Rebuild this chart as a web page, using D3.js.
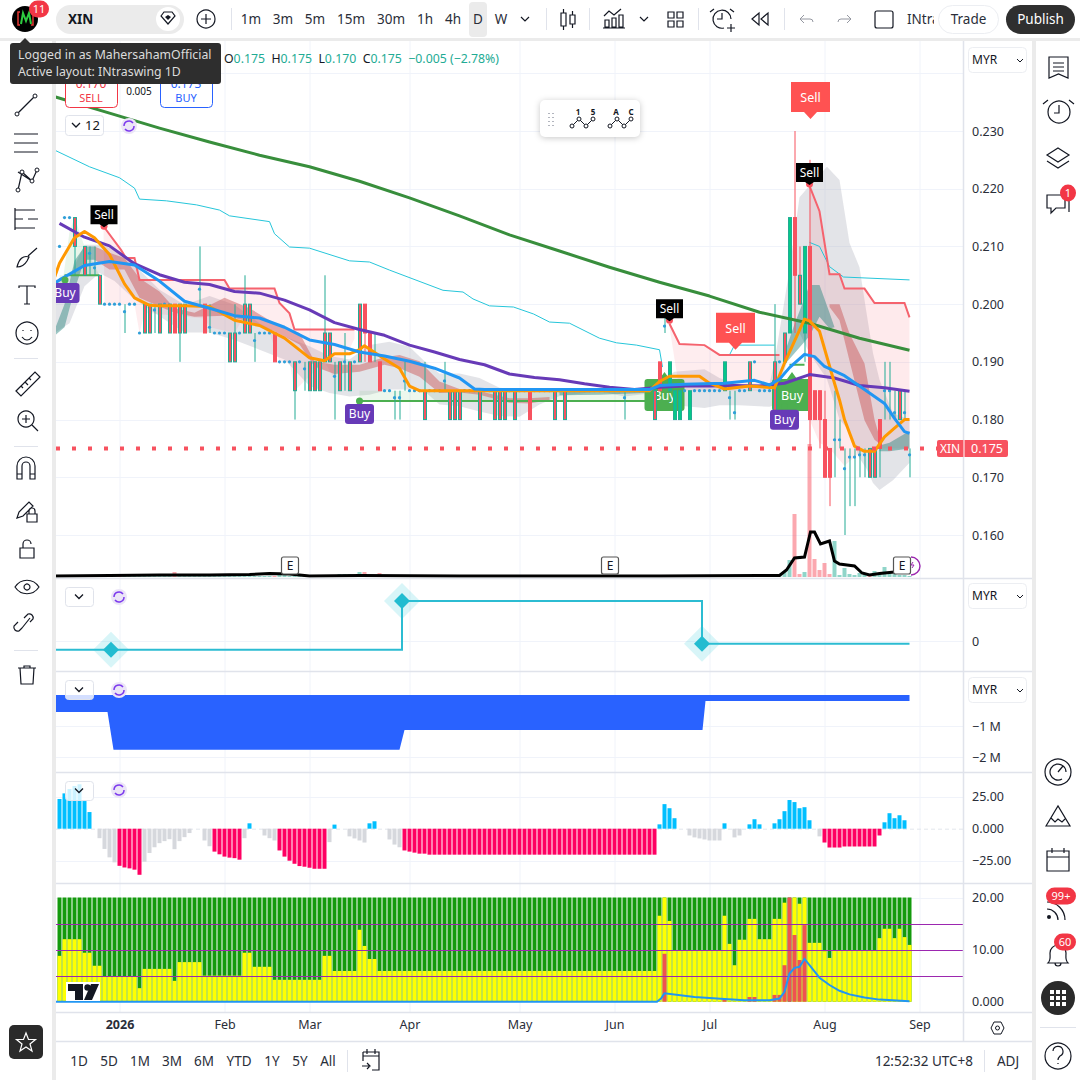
<!DOCTYPE html>
<html>
<head>
<meta charset="utf-8">
<title>XIN 1D</title>
<script src="https://cdn.jsdelivr.net/npm/d3@7"></script>
<style>
  html, body { margin: 0; padding: 0; background: #fff; }
  svg { display: block; }
  text { font-family: "Noto Sans", sans-serif; fill: #131722; }
</style>
</head>
<body>
<div id="chart"></div>
<script>
var bodyIdx = [3,5,8,17,18,20,22,23,24,25,29,34,35,37,38,43,47,50,51,52,53,54,56,58,60,61,62,64,73,78,79,80,84,87,88,89,91,94,99,101,119,120,122,123,124,126,133,138,143,145,146,147,148,149,150,151,152,153,154,162,163,164,168];
var bodyTop = [.215,.21,.205,.2,.2,.2,.2,.2,.2,.2,.2,.195,.195,.2,.2,.195,.19,.19,.19,.19,.195,.195,.19,.19,.2,.2,.195,.19,.185,.185,.185,.185,.185,.185,.185,.185,.185,.185,.185,.185,.185,.19,.19,.185,.185,.185,.19,.19,.19,.195,.215,.215,.205,.21,.21,.185,.185,.18,.175,.175,.175,.18,.185];
var bodyBot = [.21,.205,.2,.195,.195,.195,.195,.195,.195,.195,.195,.19,.19,.195,.195,.19,.185,.185,.185,.185,.19,.19,.185,.185,.19,.195,.19,.185,.18,.18,.18,.18,.18,.18,.18,.18,.18,.18,.18,.18,.18,.185,.185,.18,.18,.18,.185,.185,.18,.19,.195,.205,.2,.195,.18,.18,.18,.17,.17,.17,.17,.175,.18];
var redBodies = [23,29,43,61,62,64,94,120,147,150,151,152,153,154,164];
var greenBodies = [122,123,124,126,133,146,149];
var wickIdx = [3,6,7,13,19,24,28,30,35,37,39,47,49,53,55,57,61,63,67,68,69,73,77,113,121,134,135,143,147,148,149,150,152,153,154,155,156,157,158,159,160,161,164,165,166,167,169,170];
var wickHigh = [.215,.21,.21,.2,.2,.2,.21,.2,.2,.205,.195,.19,.19,.205,.19,.195,.2,.195,.185,.185,.19,.19,.19,.185,.2,.185,.185,.2,.23,.21,.21,.225,.185,.185,.175,.185,.18,.175,.175,.175,.175,.175,.18,.19,.19,.185,.185,.175];
var wickLow = [.205,.205,.205,.195,.195,.19,.2,.195,.19,.195,.19,.18,.185,.19,.18,.185,.19,.19,.18,.18,.185,.18,.185,.18,.195,.18,.18,.18,.195,.2,.19,.175,.175,.17,.165,.17,.175,.16,.165,.165,.17,.17,.17,.18,.18,.18,.18,.17];
var redWicks = [61,147,148,150,152,153,154];
var dotIdx = [0,1,2,6,7,9,10,11,12,13,14,15,16,19,21,28,30,31,32,33,36,39,40,41,42,44,45,46,48,49,55,57,59,65,66,67,68,69,70,71,72,74,75,76,77,81,82,83,85,86,90,92,93,95,96,97,98,100,102,103,104,105,106,107,108,109,110,111,112,113,114,115,116,117,118,121,125,127,128,129,130,131,132,134,135,136,137,139,140,141,142,144,155,156,157,158,159,160,161,165,166,167,169,170];
var dotVal = [.21,.215,.215,.2088,.2063,.2,.2,.2,.2,.1987,.2,.2,.195,.199,.2,.2026,.196,.195,.195,.195,.195,.1937,.195,.195,.195,.19,.19,.19,.19,.1888,.1875,.19,.19,.185,.185,.1838,.1838,.1867,.185,.185,.185,.185,.185,.185,.1867,.185,.185,.185,.185,.185,.185,.185,.185,.185,.185,.185,.185,.185,.185,.185,.185,.185,.185,.185,.185,.185,.185,.185,.185,.1838,.185,.185,.185,.185,.185,.1962,.185,.185,.185,.185,.185,.185,.185,.1838,.1812,.185,.185,.19,.185,.185,.185,.19,.1765,.1765,.1715,.1735,.1735,.1739,.1739,.185,.185,.1812,.1812,.1739];

// ---- moving averages
var gridIdx = [0,5,10,15,20,25,30,35,40,45,50,55,60,65,70,75,80,85,90,95,100,105,110,115,120,125,130,135,140,145,150,155,160,165,170];
var purpleMa = [.214,.2116,.2101,.207,.2051,.2038,.2034,.2022,.2019,.2007,.199,.1968,.1956,.1946,.1929,.1917,.1904,.1895,.1879,.1873,.1869,.1862,.1856,.1852,.1856,.1858,.1858,.1859,.1858,.1863,.1878,.1872,.1859,.1855,.1849];
var greenMaIdx = [-2,10,20,30,40,50,60,70,80,90,100,110,120,130,140,150,160,170];
var greenMa = [.2362,.2331,.2305,.2281,.2258,.2238,.2213,.2184,.2153,.212,.2092,.2064,.2038,.2014,.1986,.1967,.1941,.192];
var orangeIdx = [-1,0,3,5,7,10,13,15,18,20,25,30,35,40,45,50,53,55,58,60,61,65,68,70,72,118,120,122,128,130,133,138,143,145,147,149,150,152,155,156,157,159,161,163,165,167,169,170];
var orangeMa = [.2046,.2071,.2115,.2126,.2115,.2086,.2035,.2011,.1998,.1997,.1997,.1996,.1972,.1963,.1941,.1907,.1902,.1914,.1914,.1921,.1928,.1905,.1889,.1858,.185,.185,.1866,.1875,.1875,.1863,.1853,.1858,.1855,.1898,.1936,.1974,.1971,.1953,.1863,.1834,.18,.1754,.1745,.1745,.177,.1785,.18,.18];
var blueIdx = [-1,0,5,10,15,20,25,30,35,40,45,50,55,60,65,70,75,80,83,85,118,120,125,133,139,142,144,146,149,151,153,157,161,165,167,169,170];
var blueMa = [.2036,.2042,.2067,.2074,.2068,.204,.2005,.1993,.198,.1976,.196,.1938,.193,.1917,.191,.1901,.1889,.1872,.1853,.1852,.1852,.1859,.1861,.1863,.1868,.186,.187,.189,.1913,.1909,.1892,.1876,.1852,.1828,.1802,.1779,.1776];

// ---- trailing stop legs and the fill under them
var stop1Idx = [8.8,12.3,13.3,15,16,33,34,43,44,46,47,59];
var stop1 = [.2135,.2094,.208,.208,.2042,.2042,.2027,.2027,.2002,.1984,.1956,.1956];
var stop1LowIdx = [9,15,16,17,29,30,35,37,42,44,46,47,53,55,59];
var stop1Low = [.2,.2,.195,.1985,.1975,.196,.195,.198,.195,.19,.19,.185,.19,.187,.194];
var stop2Idx = [122,124,129,132,144];
var stop2 = [.1966,.1931,.1929,.1912,.1912];
var stop2Low = [.196,.185,.185,.185,.185];
var stop3Idx = [150,152,154,156,157,161,163,169,170];
var stop3 = [.2205,.2161,.2052,.2052,.2027,.2027,.2002,.2002,.1977];
var stop3Low = [.18,.176,.175,.173,.172,.175,.175,.175,.175];

// ---- thin cyan channel, three legs
var cyan1Idx = [-1,6,12,15,16,21.4,27.4,32,34,42,43,46,50,58,62,66,76.7,80.7,82.7,86,90.8,94.8,98,102,108,111.4,115.4,120,120.6];
var cyan1 = [.2267,.2238,.2219,.2201,.2182,.2179,.2172,.2163,.2153,.2143,.2122,.2099,.2097,.2075,.2073,.2059,.2024,.2021,.2009,.1997,.1995,.1983,.1969,.1967,.1941,.1933,.1929,.1921,.1891];
var cyan2Idx = [134,135,143];
var cyan2 = [.1912,.1929,.1929];
var cyan3Idx = [150,152,154,156.8,170];
var cyan3 = [.2107,.21,.2065,.2047,.2042];

// ---- grey band
var bandIdx = [-1,2,5,8,11,15,20,25,30,35,40,45,50,54,58,62,66,70,73,76,80,84,88,92,96,100,108,113,118,123,129,132,136,142,143,146,148,150,153.5,156,158,160,161.4,162.7,164,166.7,170];
var bandUp = [.2042,.2048,.2103,.2103,.2095,.2068,.2025,.1999,.2014,.1999,.1967,.1944,.1927,.191,.1904,.1929,.1935,.1926,.1901,.188,.188,.1872,.1855,.1852,.1852,.1852,.1853,.1853,.1855,.1883,.1887,.1872,.186,.1862,.19,.206,.2185,.2205,.2238,.2215,.2106,.2064,.1985,.1915,.1869,.1811,.18];
var bandLow = [.195,.1967,.2031,.2054,.204,.2008,.1979,.1951,.1951,.1938,.1921,.1904,.1858,.1846,.184,.1843,.1852,.1852,.1849,.1826,.1823,.1814,.1806,.1805,.1826,.1841,.1849,.184,.1845,.1825,.182,.1825,.1825,.1822,.1825,.1915,.195,.1915,.187,.18,.178,.1733,.1715,.169,.1678,.1695,.1725];

// ---- cloud, red and teal parts
var kumoRedIdx = [7,10,13,16,20,23,27,33,38,43,48,51,55,60,65,68,72,76,80,84,90,94,98];
var kumoRedTop = [.21,.2089,.208,.2045,.2022,.1993,.1985,.2011,.1993,.1967,.195,.1901,.1895,.1895,.1908,.1912,.1901,.1866,.1853,.1849,.1837,.1837,.1839];
var kumoRedBot = [.2077,.206,.206,.2011,.1996,.1985,.1978,.198,.197,.1953,.193,.1892,.1879,.1883,.1895,.1889,.1874,.1846,.1847,.1843,.1829,.1828,.1834];
var kumoRed2Idx = [154,156,158,161,163,164.5];
var kumoRed2Top = [.2,.2,.1949,.1897,.18,.1755];
var kumoRed2Bot = [.1995,.1972,.1902,.1799,.1765,.1755];
var kumoTeal1Idx = [-1,1,3,5,7];
var kumoTeal1Top = [.1955,.2,.2075,.21,.21];
var kumoTeal1Bot = [.1945,.196,.2025,.2077,.2077];
var kumoTeal2Idx = [100,108,117];
var kumoTeal2Top = [.1851,.1851,.1851];
var kumoTeal2Bot = [.1842,.1843,.1846];
var kumoTeal3Idx = [145,147,150,152,154,155];
var kumoTeal3Top = [.1915,.1965,.2033,.2033,.1985,.196];
var kumoTeal3Bot = [.1895,.1915,.1945,.1978,.1958,.196];
var kumoTeal4Idx = [164,166,170];
var kumoTeal4Top = [.1755,.176,.178];
var kumoTeal4Bot = [.1745,.1745,.175];

// ---- buy support legs
var buy1Idx = [1,8];
var buy1 = [.205,.205];
var buyFill1Idx = [0,2,3,4,5,8];
var buyFill1Top = [.2,.2125,.215,.2125,.21,.205];
var buyFill1Bot = [.205,.205,.205,.205,.205,.205];
var buy2Idx = [60,118];
var buy2 = [.1832,.1832];
var buy2Top = [.185,.185];
var buy3Idx = [146,149];
var buy3 = [.1895,.1895];

// ---- volume
var volumes = [2,2,1,1,1,1,2,1,1,1,2,1,1,1,1,1,2,1,2,3,3,1,2,5,2,3,1,1,1,1,2,1,1,1,1,1,2,2,1,1,1,1,1,1,2,2,1,1,1,1,2,2,1,1,2,2,3,3,3,2,5,5,2,2,4,2,1,1,1,1,1,2,1,1,1,1,1,1,1,1,1,1,1,1,1,1,1,1,1,1,1,1,1,1,1,1,1,1,1,1,1,1,1,1,1,1,1,1,1,1,1,1,1,1,1,1,1,1,1,1,2,1,1,1,1,1,1,1,1,1,1,1,1,1,1,1,1,1,1,1,1,1,1,3,2,6,17,63,3,5,133,18,7,14,3,36,2,9,3,2,4,3,3,6,4,10,3,3,2,2,1];
var volRed = [12,23,43,61,62,64,120,147,148,150,151,152,153,154,162];
var volLineIdx = [-2,10,20,30,38,42,46,50,60,80,100,120,140,144,145.4,147,149,150.2,151,152.2,154,155,156,157.5,159,160.5,162,164,167];
var volLine = [1,1.5,2,2,2.5,3.5,3,1,1.5,1,1,1,1.5,1.5,7,19,20,45,45,33,36,16,13,12,11,4,2,3.5,5];

// ---- pane 2 step
var stepIdx = [-2,68.5,128.5,170];
var stepVal = [-.22,1,-.07,-.07];
var diamondIdx = [10.3,68.5,128.5];
var diamondVal = [-.22,1,-.07];

// ---- pane 3 blue area
var flowIdx = [-2,9.6,10.8,68,69,128.6,129.2,170];
var flowVal = [-.55,-.55,-1.77,-1.77,-1.13,-1.13,-.19,-.19];

// ---- pane 4 histogram
var histVal = [23.2,27.6,31,33.4,34.7,21.6,13,0,-7.4,-15.8,-22.4,-26.3,-29,-30.3,-31,-32,-36,-25.8,-19,-14.5,-11.3,-9.7,-8.2,-16,-9.7,-6.6,-3.4,0,0,-9.2,-13.7,-17.9,-20,-21.8,-22.6,-23,-24.2,-7.4,4.2,0,0,-5.3,-7.4,-9.2,-17,-21.8,-25,-27.4,-29.2,-29.7,-30.5,-31.3,-31.3,-31.3,-10.5,3.2,0,0,-6,-7.6,-9.2,-10.8,4.2,5.8,0,0,-8.4,-12.4,-14.5,-17,-17.9,-18.7,-19.5,-19.5,-20.3,-20.3,-20.3,-20.3,-20.3,-20.3,-20.3,-20.3,-20.3,-20.3,-20.3,-20.3,-20.3,-20.3,-20.3,-20.3,-20.3,-20.3,-20.3,-20.3,-20.3,-20.3,-20.3,-20.3,-20.3,-20.3,-20.3,-20.3,-20.3,-20.3,-20.3,-20.3,-20.3,-20.3,-20.3,-20.3,-20.3,-20.3,-20.3,-20.3,-20.3,-20.3,-20.3,-20.3,-20.3,-20.3,3.4,19.2,16,8.2,0,0,-5.3,-6.8,-7.6,-8.4,-9.2,-9.2,-9.2,4.2,0,-6.8,-5.3,0,3.4,7.4,3.4,0,0,4.2,7.4,13.7,22.4,20.8,16,16.8,6.6,0,-6,-10.8,-14.7,-14.7,-14.7,-13.9,-13.9,-13.9,-13.9,-13.9,-13.9,-13.9,-5.3,5,12.1,8.2,10.5,6.6];
var histPinkFrom = [12,31,44,69,153];
var histPinkTo = [16,36,53,119,164];

// ---- pane 5 stacked bars
var yellowVal = [8.8,12,12,12,12,9.4,9.4,6.9,6.9,4.8,4.8,4.8,4.8,4.8,4.8,4.8,2.6,6.3,6.3,6.3,6.3,6.3,6.3,4,7.6,7.6,7.6,7.6,7.6,5,5,5,5,5,5,5,5,9.4,9.4,6.7,6.7,6.7,6.7,4.2,4.2,4.2,4.2,4.2,4.2,4.2,4.2,4.2,4.2,8.8,8.8,5.9,5.9,5.9,5.9,5.9,13.8,10.7,8.2,8.2,5.9,5.9,5.9,5.9,5.9,5.9,5.9,5.9,5.9,5.9,5.9,5.9,5.9,5.9,5.9,5.9,5.9,5.9,5.9,5.9,5.9,5.9,5.9,5.9,5.9,5.9,5.9,5.9,5.9,5.9,5.9,5.9,5.9,5.9,5.9,5.9,5.9,5.9,5.9,5.9,5.9,5.9,5.9,5.9,5.9,5.9,5.9,5.9,5.9,5.9,5.9,5.9,5.9,5.9,5.9,5.9,16.5,20,15.5,9.9,9.9,9.9,9.9,9.9,9.9,9.9,9.9,9.9,9.9,16.5,11.1,7,11.9,11.9,15.9,15.9,12,12,12,15.9,15.9,19,0,20,18.8,20,11.3,11.3,11.3,9.7,8.4,9.9,9.9,9.9,9.9,9.9,9.9,9.9,9.9,9.9,12.2,14,14,12.2,14,12.4,10.9];
var redIdx = [121,133,138,139,143,144,145,146,147,148,149];
var redVal = [9.2,.6,.9,.9,1.3,1.3,7,20,12.8,8,14.7];
var oscIdx = [-2,119.5,120.3,121,127,133,137,142,144,145,146,147,148,149,150,152,154,156,158,161,164,170];
var oscVal = [0,0,.6,1.6,.9,.5,.3,.3,.6,1.9,5.4,6.5,6.7,8.2,7,4.6,3.2,2.1,1.4,.8,.4,.1];
var osLevels = [5,10,15];

// ---- axis labels
var priceTicks = [.16,.17,.18,.19,.2,.21,.22,.23];
var monthIdx = [12,33,50,70,92,111,130,153,172];
var monthNames = ["2026","Feb","Mar","Apr","May","Jun","Jul","Aug","Sep"];
var rangeNames = ["1D","5D","1M","3M","6M","YTD","1Y","5Y","All"];
var intervalNames = ["1m","3m","5m","15m","30m","1h","4h","D","W"];

// ---- signal labels
var buyTagIdx = [1, 60, 145];
var buyTagVal = [.2042, .1832, .1822];
var sellTagIdx = [8.9, 122, 150];
var sellTagVal = [.2135, .1972, .2208];
var sellBigIdx = [135.2, 150.2];
var sellBigVal = [.1985, .2385];
var buyBigIdx = [121, 146.5];
var earningsIdx = [46, 110, 168.4];

var width = 1080, height = 1080;
var paneL = 56, paneR = 963;
var INK = "#131722", RED = "#f7525f", TEAL = "#22ab94", GRID = "#f0f3fa", LINE = "#e0e3eb";

var x = d3.scaleLinear().domain([0, 170]).range([59.5, 909.5]);
var yP = d3.scaleLinear().domain([.16, .23]).range([535, 131]);
var yVol = d3.scaleLinear().domain([0, 133]).range([577, 444]);
var yStep = d3.scaleLinear().domain([0, 1]).range([641, 601]);
var yFlow = d3.scaleLinear().domain([-2, 0]).range([757, 695]);
var yHist = d3.scaleLinear().domain([-25, 25]).range([860.7, 796.7]);
var yOsc = d3.scaleLinear().domain([0, 20]).range([1001.7, 897.5]);

var svg = d3.select("#chart").append("svg").attr("width", width).attr("height", height);
var defs = svg.append("defs");
[["main", 41, 537], ["p2", 579, 92], ["p3", 672, 100], ["p4", 773, 110], ["p5", 884, 128]].forEach(function(p) {
    defs.append("clipPath").attr("id", "clip-" + p[0]).append("rect")
        .attr("x", paneL).attr("y", p[1]).attr("width", paneR - paneL).attr("height", p[2]);
});

svg.append("rect").attr("width", width).attr("height", height).attr("fill", "#ebebeb");
svg.append("rect").attr("width", width).attr("height", 38).attr("fill", "#fff");
svg.append("rect").attr("x", 0).attr("y", 41).attr("width", 52).attr("height", 1039).attr("fill", "#fff");
svg.append("rect").attr("x", paneL).attr("y", 41).attr("width", 976).attr("height", 1039).attr("fill", "#fff");
svg.append("rect").attr("x", 1036).attr("y", 41).attr("width", 44).attr("height", 1039).attr("fill", "#fff");

// grid
var grid = svg.append("g");
grid.selectAll("line.v").data(monthIdx).enter().append("line")
    .attr("x1", function(d) { return x(d) + .5; }).attr("x2", function(d) { return x(d) + .5; })
    .attr("y1", 41).attr("y2", 1012).attr("stroke", GRID);
grid.selectAll("line.h").data(priceTicks.concat([.24])).enter().append("line")
    .attr("x1", paneL).attr("x2", paneR).attr("y1", function(d) { return Math.round(yP(d)) + .5; })
    .attr("y2", function(d) { return Math.round(yP(d)) + .5; }).attr("stroke", GRID);
[[yStep, [0]], [yFlow, [-1, -2]], [yHist, [25, -25]], [yOsc, [20]]].forEach(function(g) {
    g[1].forEach(function(v) {
        grid.append("line").attr("x1", paneL).attr("x2", paneR)
            .attr("y1", Math.round(g[0](v)) + .5).attr("y2", Math.round(g[0](v)) + .5).attr("stroke", GRID);
    });
});

function lineOf(xs, ys, scale) {
    var s = scale || yP;
    return d3.line().x(function(d) { return x(d); }).y(function(d, i) { return s(ys[i]); })(xs);
}
function areaOf(xs, top, bot, scale) {
    var s = scale || yP;
    return d3.area().x(function(d) { return x(d); })
        .y0(function(d, i) { return s(bot[i]); }).y1(function(d, i) { return s(top[i]); })(xs);
}
// polygon with different x samples along the top and bottom edge
function bandOf(xt, top, xb, bot) {
    var pts = xt.map(function(d, i) { return [x(d), yP(top[i])]; });
    xb.slice().reverse().forEach(function(d, i) { pts.push([x(d), yP(bot[bot.length - 1 - i])]); });
    return d3.line()(pts) + "Z";
}

var main = svg.append("g").attr("clip-path", "url(#clip-main)");

// volume at the back
main.selectAll("rect.vol").data(volumes).enter().append("rect")
    .attr("x", function(d, i) { return x(i) - 2; }).attr("width", 4)
    .attr("y", function(d) { return yVol(d); }).attr("height", function(d) { return yVol(0) - yVol(d); })
    .attr("fill", function(d, i) { return volRed.indexOf(i) >= 0 ? "rgba(247,82,95,.5)" : "rgba(34,171,148,.5)"; });

// bands
main.append("path").attr("d", areaOf(bandIdx, bandUp, bandLow)).attr("fill", "rgba(178,181,190,.36)");
main.append("path").attr("d", bandOf(stop1Idx, stop1, stop1LowIdx, stop1Low)).attr("fill", "rgba(247,82,95,.1)");
main.append("path").attr("d", areaOf(stop2Idx, stop2, stop2Low)).attr("fill", "rgba(247,82,95,.1)");
main.append("path").attr("d", areaOf(stop3Idx, stop3, stop3Low)).attr("fill", "rgba(247,82,95,.12)");
main.append("path").attr("d", areaOf(buyFill1Idx, buyFill1Top, buyFill1Bot)).attr("fill", "rgba(76,175,80,.12)");
main.append("path").attr("d", areaOf(buy2Idx, buy2Top, buy2)).attr("fill", "rgba(76,175,80,.1)");
[[kumoRedIdx, kumoRedTop, kumoRedBot, "rgba(200,80,80,.45)"],
 [kumoRed2Idx, kumoRed2Top, kumoRed2Bot, "rgba(200,80,80,.45)"],
 [kumoTeal1Idx, kumoTeal1Top, kumoTeal1Bot, "rgba(38,130,125,.45)"],
 [kumoTeal2Idx, kumoTeal2Top, kumoTeal2Bot, "rgba(38,130,125,.45)"],
 [kumoTeal3Idx, kumoTeal3Top, kumoTeal3Bot, "rgba(38,130,125,.45)"],
 [kumoTeal4Idx, kumoTeal4Top, kumoTeal4Bot, "rgba(38,130,125,.45)"]].forEach(function(k) {
    main.append("path").attr("d", areaOf(k[0], k[1], k[2])).attr("fill", k[3]);
});

// big green buy tags sit behind the candles
main.selectAll("g.buybig").data(buyBigIdx).enter().append("g").each(function(d) {
    var g = d3.select(this), cx = x(d);
    g.append("path").attr("d", "M" + (cx - 20) + ",382a3,3 0 0 1 3,-3h12l5,-7l5,7h12a3,3 0 0 1 3,3v26a3,3 0 0 1 -3,3h-34a3,3 0 0 1 -3,-3z").attr("fill", "#4caf50");
    g.append("text").attr("x", cx).attr("y", 400).attr("text-anchor", "middle").attr("font-size", 12.5).style("fill", "#fff").text("Buy");
});

// thin lines
[[cyan1Idx, cyan1], [cyan2Idx, cyan2], [cyan3Idx, cyan3]].forEach(function(c) {
    main.append("path").attr("d", lineOf(c[0], c[1])).attr("fill", "none").attr("stroke", "#26c6da").attr("stroke-width", 1);
});
[[buy1Idx, buy1], [buy2Idx, buy2], [buy3Idx, buy3]].forEach(function(c) {
    main.append("path").attr("d", lineOf(c[0], c[1])).attr("fill", "none").attr("stroke", "#4caf50").attr("stroke-width", 2);
});
[[stop1Idx, stop1], [stop2Idx, stop2], [stop3Idx, stop3]].forEach(function(c) {
    main.append("path").attr("d", lineOf(c[0], c[1])).attr("fill", "none").attr("stroke", "#f5636e").attr("stroke-width", 2);
});

// candles
main.selectAll("line.wick").data(wickIdx).enter().append("line")
    .attr("x1", function(d) { return x(d) + .5; }).attr("x2", function(d) { return x(d) + .5; })
    .attr("y1", function(d, i) { return yP(wickHigh[i]); }).attr("y2", function(d, i) { return yP(wickLow[i]); })
    .attr("stroke", function(d) { return redWicks.indexOf(d) >= 0 ? RED : TEAL; });
main.selectAll("rect.body").data(bodyIdx).enter().append("rect")
    .attr("x", function(d) { return x(d) - 1; }).attr("width", 3)
    .attr("y", function(d, i) { return yP(bodyTop[i]); })
    .attr("height", function(d, i) { return yP(bodyBot[i]) - yP(bodyTop[i]); })
    .attr("fill", function(d) { return greenBodies.indexOf(d) >= 0 ? "#05c987" : RED; })
    .attr("stroke", function(d) { return redBodies.indexOf(d) >= 0 ? RED : TEAL; });
main.selectAll("circle.dot").data(dotIdx).enter().append("circle")
    .attr("cx", function(d) { return x(d); }).attr("cy", function(d, i) { return yP(dotVal[i]); })
    .attr("r", 1.6).attr("fill", "#2f9fd8");

// moving averages
[[greenMaIdx, greenMa, "#388e3c"], [gridIdx, purpleMa, "#673ab7"], [orangeIdx, orangeMa, "#ff9800"], [blueIdx, blueMa, "#2196f3"]].forEach(function(m) {
    main.append("path").attr("d", lineOf(m[0], m[1])).attr("fill", "none")
        .attr("stroke", m[2]).attr("stroke-width", 3).attr("stroke-linejoin", "round");
});

// last price line
main.append("line").attr("x1", paneL).attr("x2", paneR).attr("y1", yP(.175)).attr("y2", yP(.175))
    .attr("stroke", RED).attr("stroke-width", 4).attr("stroke-dasharray", "4 12");

// volume average line
main.append("path").attr("d", lineOf(volLineIdx, volLine, yVol)).attr("fill", "none").attr("stroke", "#000").attr("stroke-width", 3);

// earnings
main.selectAll("g.earn").data(earningsIdx).enter().append("g").each(function(d) {
    var g = d3.select(this), cx = x(d);
    g.append("rect").attr("x", cx - 8).attr("y", 557).attr("width", 17).attr("height", 17).attr("rx", 2)
        .attr("fill", "#fff").attr("stroke", "#555").attr("stroke-width", 1.2);
    g.append("text").attr("x", cx + .5).attr("y", 570).attr("text-anchor", "middle").attr("font-size", 12).text("E");
});
svg.append("path").attr("d", "M911,557a9,9 0 0 1 0,18").attr("fill", "none").attr("stroke", "#9c27b0").attr("stroke-width", 1.4);
svg.append("path").attr("d", "M913,562l-2,3h3l-2,3").attr("fill", "none").attr("stroke", "#9c27b0").attr("stroke-width", 1);

// signal tags
buyTagIdx.forEach(function(d, i) {
    var cx = x(d), cy = yP(buyTagVal[i]), tx = i === 0 ? 65 : cx;
    main.append("circle").attr("cx", tx).attr("cy", cy).attr("r", 3.5).attr("fill", "#4caf50");
    main.append("rect").attr("x", tx - 14.5).attr("y", cy + 3).attr("width", 29).attr("height", 20).attr("rx", 3).attr("fill", "#673ab7");
    main.append("text").attr("x", tx).attr("y", cy + 17).attr("text-anchor", "middle").attr("font-size", 12).style("fill", "#fff").text("Buy");
});
sellTagIdx.forEach(function(d, i) {
    var cx = x(d), cy = yP(sellTagVal[i]);
    main.append("circle").attr("cx", cx).attr("cy", cy).attr("r", 3.5).attr("fill", RED);
    main.append("path").attr("d", "M" + (cx - 13.5) + "," + (cy - 21) + "h27v19h-9l-4.5,3l-4.5,-3h-9z").attr("fill", "#000");
    main.append("text").attr("x", cx).attr("y", cy - 7).attr("text-anchor", "middle").attr("font-size", 12).style("fill", "#fff").text("Sell");
});
sellBigIdx.forEach(function(d, i) {
    var cx = x(d), top = yP(sellBigVal[i]);
    main.append("path").attr("d", "M" + (cx - 19.5) + "," + top + "h39v30h-13l-6.5,7l-6.5,-7h-13z").attr("fill", "#ff5252");
    main.append("text").attr("x", cx).attr("y", top + 20).attr("text-anchor", "middle").attr("font-size", 12.5).style("fill", "#fff").text("Sell");
});

// pane 2: step line
var p2 = svg.append("g").attr("clip-path", "url(#clip-p2)");
p2.append("path").attr("d", d3.line().curve(d3.curveStepAfter)
    .x(function(d) { return x(d); }).y(function(d, i) { return yStep(stepVal[i]); })(stepIdx))
    .attr("fill", "none").attr("stroke", "#2cbcd2").attr("stroke-width", 2);
p2.selectAll("g.dia").data(diamondIdx).enter().append("g").each(function(d, i) {
    var g = d3.select(this).attr("transform", "translate(" + x(d) + "," + yStep(diamondVal[i]) + ")");
    g.append("path").attr("d", "M0,-18L18,0L0,18L-18,0Z").attr("fill", "rgba(38,198,218,.18)");
    g.append("path").attr("d", "M0,-8L8,0L0,8L-8,0Z").attr("fill", "#22bcd0");
});

// pane 3: area
svg.append("g").attr("clip-path", "url(#clip-p3)").append("path")
    .attr("d", areaOf(flowIdx, flowIdx.map(function() { return 0; }), flowVal, yFlow)).attr("fill", "#2962ff");

// pane 4: histogram
function isPink(i) {
    return histPinkFrom.some(function(f, k) { return i >= f && i <= histPinkTo[k]; });
}
var p4 = svg.append("g").attr("clip-path", "url(#clip-p4)");
p4.append("line").attr("x1", paneL).attr("x2", paneR).attr("y1", yHist(0) + .5).attr("y2", yHist(0) + .5)
    .attr("stroke", "#e3e6ec").attr("stroke-dasharray", "4 3");
p4.selectAll("rect").data(histVal).enter().append("rect")
    .attr("x", function(d, i) { return x(i) - 2; }).attr("width", 4)
    .attr("y", function(d) { return d > 0 ? yHist(d) : yHist(0); })
    .attr("height", function(d) { return Math.abs(yHist(d) - yHist(0)); })
    .attr("fill", function(d, i) { return d > 0 ? "#00bfff" : isPink(i) ? "#ff0062" : "#d6d8dd"; });

// pane 5: stacked bars
var p5 = svg.append("g").attr("clip-path", "url(#clip-p5)");
p5.selectAll("rect.g").data(yellowVal).enter().append("rect")
    .attr("x", function(d, i) { return x(i) - 2; }).attr("width", 4)
    .attr("y", yOsc(20)).attr("height", yOsc(0) - yOsc(20)).attr("fill", "#149a0d");
p5.selectAll("rect.y").data(yellowVal).enter().append("rect")
    .attr("x", function(d, i) { return x(i) - 2; }).attr("width", 4)
    .attr("y", function(d) { return yOsc(d); }).attr("height", function(d) { return yOsc(0) - yOsc(d); })
    .attr("fill", "#ffff00");
p5.selectAll("rect.r").data(redIdx).enter().append("rect")
    .attr("x", function(d) { return x(d) - 2; }).attr("width", 4)
    .attr("y", function(d, i) { return yOsc(redVal[i]); }).attr("height", function(d, i) { return yOsc(0) - yOsc(redVal[i]); })
    .attr("fill", "#ef5350");
p5.selectAll("line.lvl").data(osLevels).enter().append("line")
    .attr("x1", paneL).attr("x2", paneR).attr("y1", function(d) { return Math.round(yOsc(d)) + .5; })
    .attr("y2", function(d) { return Math.round(yOsc(d)) + .5; }).attr("stroke", "#9c27b0");
p5.append("path").attr("d", lineOf(oscIdx, oscVal, yOsc)).attr("fill", "none").attr("stroke", "#2196f3").attr("stroke-width", 2);
// watermark
p5.append("rect").attr("x", 66).attr("y", 982).attr("width", 34).attr("height", 19).attr("fill", "#fff");
p5.append("path").attr("d", "M68,984h15v16h-8v-9h-7zM91,984h8l-7,16h-8z").attr("fill", "#131722");
p5.append("circle").attr("cx", 87.5).attr("cy", 987.5).attr("r", 3.2).attr("fill", "#131722");

// separators
[578, 671, 772, 883, 1012, 1041].forEach(function(yy) {
    svg.append("line").attr("x1", paneL).attr("x2", 1032).attr("y1", yy + .5).attr("y2", yy + .5).attr("stroke", LINE).attr("stroke-width", 1.5);
});
svg.append("line").attr("x1", paneR + .5).attr("x2", paneR + .5).attr("y1", 41).attr("y2", 1041).attr("stroke", LINE).attr("stroke-width", 1.5);

// axes
function rightAxis(scale, vals, fmt) {
    var g = svg.append("g").attr("transform", "translate(" + 964 + ",0)")
        .call(d3.axisRight(scale).tickValues(vals).tickSize(0).tickPadding(8).tickFormat(fmt));
    g.select(".domain").remove();
    g.selectAll("text").attr("font-size", 12.5).attr("font-family", '"Noto Sans", sans-serif').style("fill", "#2a2e39");
}
rightAxis(yP, priceTicks, d3.format(".3f"));
rightAxis(yStep, [0], d3.format("d"));
rightAxis(yFlow, [-1, -2], function(d) { return "\u2212" + Math.abs(d) + " M"; });
rightAxis(yHist, [25, 0, -25], function(d) { return (d < 0 ? "\u2212" : "") + Math.abs(d).toFixed(d === 0 ? 3 : 2); });
rightAxis(yOsc, [20, 10, 0], function(d) { return d === 0 ? "0.000" : d.toFixed(2); });

var tAxis = svg.append("g").attr("transform", "translate(0,1017)")
    .call(d3.axisBottom(x).tickValues(monthIdx).tickSize(0).tickPadding(3).tickFormat(function(d, i) { return monthNames[i]; }));
tAxis.select(".domain").remove();
tAxis.selectAll("text").attr("font-size", 12.5).attr("font-family", '"Noto Sans", sans-serif')
    .style("fill", "#2a2e39").style("font-weight", function(d, i) { return i === 0 ? 700 : 400; });

// last price tag
svg.append("rect").attr("x", 937).attr("y", 440).attr("width", 71).attr("height", 17).attr("rx", 2).attr("fill", "#f7525f");
svg.append("line").attr("x1", 964).attr("x2", 964).attr("y1", 440).attr("y2", 457).attr("stroke", "#fff");
svg.append("text").attr("x", 950).attr("y", 453).attr("text-anchor", "middle").attr("font-size", 12).style("fill", "#fff").text("XIN");
svg.append("text").attr("x", 987).attr("y", 453).attr("text-anchor", "middle").attr("font-size", 12.5).style("fill", "#fff").text("0.175");

// currency boxes
[47, 583, 677].forEach(function(yy) {
    svg.append("rect").attr("x", 968.5).attr("y", yy + .5).attr("width", 58).attr("height", 25).attr("rx", 4).attr("fill", "#fff").attr("stroke", "#eceef2");
    svg.append("text").attr("x", 972).attr("y", yy + 17).attr("font-size", 12).text("MYR");
    svg.append("path").attr("d", "M1017," + (yy + 12) + "l3,3l3,-3").attr("fill", "none").attr("stroke", "#131722");
});
// time axis settings
svg.append("path").attr("d", "M991,1028l3,-6h7l3,6l-3,6h-7z").attr("fill", "none").attr("stroke", "#131722");
svg.append("circle").attr("cx", 997.5).attr("cy", 1028).attr("r", 2).attr("fill", "none").attr("stroke", "#131722");

// pane legends
function legendBox(bx, by, bw, bh, label) {
    svg.append("rect").attr("x", bx + .5).attr("y", by + .5).attr("width", bw).attr("height", bh).attr("rx", 3)
        .attr("fill", "rgba(255,255,255,.8)").attr("stroke", "#e0e3eb");
    svg.append("path").attr("d", "M" + (bx + (label ? 7 : 10)) + "," + (by + bh / 2 - 2) + "l4,4l4,-4").attr("fill", "none").attr("stroke", "#131722").attr("stroke-width", 1.3);
    if (label) svg.append("text").attr("x", bx + 20).attr("y", by + bh / 2 + 5).attr("font-size", 13).text(label);
}
function refreshIcon(cx, cy) {
    svg.append("circle").attr("cx", cx).attr("cy", cy).attr("r", 8).attr("fill", "#ebe5f7");
    svg.append("path").attr("d", "M" + (cx - 5) + "," + cy + "a5,5 0 0 1 9,-3M" + (cx + 5) + "," + cy + "a5,5 0 0 1 -9,3")
        .attr("fill", "none").attr("stroke", "#7c3aed").attr("stroke-width", 1.5);
}
legendBox(65, 115, 38, 20, "12"); refreshIcon(129, 126);
legendBox(65, 587, 28, 19); refreshIcon(119, 597);
legendBox(65, 680, 28, 19); refreshIcon(119, 690);
legendBox(65, 781, 28, 19); refreshIcon(119, 790);

// OHLC legend
var ohlc = svg.append("text").attr("x", 224).attr("y", 63).attr("font-size", 12.3).style("white-space", "pre");
[["O", INK], ["0.175", TEAL], ["  H", INK], ["0.175", TEAL], ["  L", INK], ["0.170", TEAL], ["  C", INK], ["0.175", TEAL], ["  \u22120.005 (\u22122.78%)", TEAL]].forEach(function(s) {
    ohlc.append("tspan").style("fill", s[1]).text(s[0]);
});

// quick trade boxes
svg.append("rect").attr("x", 65.5).attr("y", 70).attr("width", 52).attr("height", 37.5).attr("rx", 4).attr("fill", "#fff").attr("stroke", "#f23645");
svg.append("rect").attr("x", 160.5).attr("y", 70).attr("width", 52).attr("height", 37.5).attr("rx", 4).attr("fill", "#fff").attr("stroke", "#2962ff");
svg.append("text").attr("x", 91).attr("y", 88).attr("text-anchor", "middle").attr("font-size", 12).style("fill", "#f23645").text("0.170");
svg.append("text").attr("x", 91).attr("y", 102).attr("text-anchor", "middle").attr("font-size", 11).style("fill", "#f23645").text("SELL");
svg.append("text").attr("x", 186).attr("y", 88).attr("text-anchor", "middle").attr("font-size", 12).style("fill", "#2962ff").text("0.173");
svg.append("text").attr("x", 186).attr("y", 102).attr("text-anchor", "middle").attr("font-size", 11).style("fill", "#2962ff").text("BUY");
svg.append("text").attr("x", 139).attr("y", 95).attr("text-anchor", "middle").attr("font-size", 10).text("0.005");

// floating drawing bar
svg.append("rect").attr("x", 540).attr("y", 100).attr("width", 100).attr("height", 37).attr("rx", 5).attr("fill", "#fff")
    .style("filter", "drop-shadow(0 1px 3px rgba(0,0,0,.22))");
svg.append("path").attr("d", "M549,113v1M553,113v1M549,117v1M553,117v1M549,121v1M553,121v1M549,125v1M553,125v1").attr("stroke", "#b2b5be").attr("stroke-width", 2);
[[570, "1", "5"], [608, "A", "C"]].forEach(function(z) {
    svg.append("path").attr("d", "M" + (z[0] + 2) + ",126l7,-7l7,7l7,-7").attr("fill", "none").attr("stroke", "#131722");
    [[2, 126], [9, 119], [16, 126], [23, 119]].forEach(function(p) {
        svg.append("circle").attr("cx", z[0] + p[0]).attr("cy", p[1]).attr("r", 2).attr("fill", "#fff").attr("stroke", "#131722");
    });
    svg.append("text").attr("x", z[0] + 8).attr("y", 115).attr("text-anchor", "middle").attr("font-size", 8).attr("font-weight", 700).text(z[1]);
    svg.append("text").attr("x", z[0] + 23).attr("y", 115).attr("text-anchor", "middle").attr("font-size", 8).attr("font-weight", 700).text(z[2]);
});

// line icon helper, all chrome icons are small stroked paths
function icon(d, w) {
    return svg.append("path").attr("d", d).attr("fill", "none").attr("stroke", "#131722").attr("stroke-width", w || 1.2);
}
function badge(cx, cy, r, label) {
    svg.append("rect").attr("x", cx - r).attr("y", cy - 8.5).attr("width", r * 2).attr("height", 17).attr("rx", 8.5).attr("fill", "#f23645");
    svg.append("text").attr("x", cx).attr("y", cy + 4).attr("text-anchor", "middle").attr("font-size", 11).style("fill", "#fff").text(label);
}

// top bar
svg.append("circle").attr("cx", 25).attr("cy", 19).attr("r", 13).attr("fill", "#000");
svg.append("path").attr("d", "M20,12h-2v13h2M31,12h2v13h-2").attr("fill", "none").attr("stroke", "#e53935").attr("stroke-width", 1.5);
svg.append("path").attr("d", "M21,24l2,-11l3,8l3,-8l2,11").attr("fill", "none").attr("stroke", "#2ecc40").attr("stroke-width", 2);
badge(39, 9, 10, "11");
svg.append("rect").attr("x", 56).attr("y", 5).attr("width", 128).attr("height", 29).attr("rx", 14.5).attr("fill", "#ebebeb");
svg.append("text").attr("x", 68).attr("y", 24).attr("font-size", 13.5).attr("font-weight", 700).text("XIN");
svg.append("circle").attr("cx", 168).attr("cy", 19).attr("r", 12).attr("fill", "#fff");
icon("M161,16l3,-4h8l3,4l-7,8z");
svg.append("path").attr("d", "M168,15l3,2l-3,3l-3,-3z").attr("fill", "#131722");
icon("M215,19a9,9 0 1 1 0,-0.01zM206,14v10M201,19h10");
svg.append("rect").attr("x", 469).attr("y", 2).attr("width", 18).attr("height", 35).attr("rx", 4).attr("fill", "#ebebeb");
var intervalX = [251, 283, 315, 351, 391, 425, 453, 478, 501];
intervalNames.forEach(function(n, i) {
    svg.append("text").attr("x", intervalX[i]).attr("y", 24).attr("text-anchor", "middle").attr("font-size", 13.5).style("fill", "#2a2e39").text(n);
});
icon("M521,17l4,4l4,-4");
[231, 546, 589, 698, 784].forEach(function(sx) {
    svg.append("line").attr("x1", sx + .5).attr("x2", sx + .5).attr("y1", 8).attr("y2", 30).attr("stroke", "#e0e3eb");
});
icon("M561,13h5v13h-5zM563.5,9v4M563.5,26v4M570,15h5v9h-5zM572.5,11v4M572.5,24v4");
icon("M605,27v-7h4v7zM612,27v-9h4v9zM619,27v-12h4v12zM603,28h22M604,16l5,-5l5,4l7,-6");
icon("M640,17l4,4l4,-4");
icon("M668,12h6v6h-6zM677,12h6v6h-6zM668,21h6v6h-6zM677,21h6v6h-6z");
icon("M731,19a9,9 0 1 0 -7,9M722,13v6h-5M714,9l-4,3M730,9l4,3M731,24v8M727,28h8");
icon("M752,19l7,-6v12zM768,13v12l-7,-6z");
svg.append("path").attr("d", "M800,19l4,-4M800,19l4,4M800,19h10a3,3 0 0 1 3,3").attr("fill", "none").attr("stroke", "#9598a1");
svg.append("path").attr("d", "M851,19l-4,-4M851,19l-4,4M851,19h-10a3,3 0 0 0 -3,3").attr("fill", "none").attr("stroke", "#9598a1");
svg.append("rect").attr("x", 875).attr("y", 11).attr("width", 18).attr("height", 17).attr("rx", 2).attr("fill", "none").attr("stroke", "#131722").attr("stroke-width", 1.2);
defs.append("clipPath").attr("id", "clip-intra").append("rect").attr("x", 900).attr("y", 0).attr("width", 34).attr("height", 38);
svg.append("text").attr("x", 907).attr("y", 24).attr("font-size", 13.5).attr("clip-path", "url(#clip-intra)").style("fill", "#2a2e39").text("INtra");
svg.append("rect").attr("x", 938.5).attr("y", 5.5).attr("width", 60).attr("height", 28).attr("rx", 14).attr("fill", "#fff").attr("stroke", "#eceef2");
svg.append("text").attr("x", 968.5).attr("y", 24).attr("text-anchor", "middle").attr("font-size", 13.5).style("fill", "#2a2e39").text("Trade");
svg.append("rect").attr("x", 1006).attr("y", 5).attr("width", 69).attr("height", 29).attr("rx", 14.5).attr("fill", "#2f2f2f");
svg.append("text").attr("x", 1040.5).attr("y", 24).attr("text-anchor", "middle").attr("font-size", 13.5).style("fill", "#fff").text("Publish");

// left toolbar
icon("M17,114l18,-18"); [[17, 114], [35, 96]].forEach(function(p) { svg.append("circle").attr("cx", p[0]).attr("cy", p[1]).attr("r", 2).attr("fill", "#fff").attr("stroke", "#131722"); });
icon("M14,134h24M14,143h24M14,152h24");
icon("M18,190l4,-18l10,9l5,-11M18,172l14,9"); [[18, 190], [22, 172], [32, 181], [37, 170]].forEach(function(p) { svg.append("circle").attr("cx", p[0]).attr("cy", p[1]).attr("r", 2).attr("fill", "#fff").attr("stroke", "#131722"); });
icon("M15,210h20M15,219h8M28,219h10M15,228h20M15,208v22");
icon("M17,267c2,-8 6,-12 12,-10l-2,4c-3,5 -6,6 -10,6zM28,256l9,-8");
icon("M19,288v-2h16v2M27,286v18M24,304h6");
icon("M38,333a11,11 0 1 1 0,-0.01zM22,337c3,4 7,4 10,0M23,330v1M31,330v1");
icon("M16,391l19,-19l5,5l-19,19zM21,386l2,2M25,382l3,3M29,378l2,2");
icon("M34,419a8,8 0 1 1 0,-0.01zM26,415v8M22,419h8M32,425l6,6");
icon("M17,466a9,9 0 0 1 18,0v13h-5v-13a4,4 0 0 0 -8,0v13h-5zM17,474h5M30,474h5");
icon("M17,518l2,-6l10,-10l4,4l-10,10zM27,514h10v8h-10zM29,514v-3a3,3 0 0 1 6,0v3");
icon("M20,548h14v10h-14zM23,548v-4a4,4 0 0 1 8,0");
icon("M15,587c6,-9 18,-9 24,0c-6,9 -18,9 -24,0zM30,587a3,3 0 1 1 0,-0.01");
icon("M22,628l-3,3a4,4 0 0 1 -5,-5l4,-4M30,622l3,-3a4,4 0 0 0 -5,-5l-4,4M22,628l8,-10");
icon("M18,668h18M24,668v-2h6v2M20,668l1,16h12l1,-16");
[358, 446, 650].forEach(function(sy) {
    svg.append("line").attr("x1", 14).attr("x2", 38).attr("y1", sy + .5).attr("y2", sy + .5).attr("stroke", "#e0e3eb");
});
svg.append("rect").attr("x", 9).attr("y", 1025).attr("width", 34).attr("height", 34).attr("rx", 5).attr("fill", "#2a2a2a");
svg.append("path").attr("d", "M26,1033l2.5,6.5h7l-5.5,4.5l2,7l-6,-4l-6,4l2,-7l-5.5,-4.5h7z").attr("fill", "none").attr("stroke", "#fff").attr("stroke-width", 1.2);

// right toolbar
icon("M1049,57h19v21l-9.5,-4l-9.5,4zM1053,63h11M1053,67h11M1053,71h11");
icon("M1070,112a11,11 0 1 1 0,-0.01zM1059,105v8h-5M1048,100l-5,4M1069,100l5,4");
icon("M1058,148l11,7l-11,7l-11,-7zM1047,161l11,7l11,-7");
icon("M1047,195h18v13h-9l-5,5v-5h-4zM1065,200h4v12");
badge(1068, 193, 8, "1");
icon("M1071,772a13,13 0 1 1 0,-0.01zM1058,772l5,-6M1066,772a8,8 0 1 0 -4,7");
icon("M1046,826l12,-20l12,20zM1051,818l4,4l3,-3l4,3l3,-3");
icon("M1047,851h22v20h-22zM1047,857h22M1052,848v5M1064,848v5");
icon("M1047,902a18,18 0 0 1 18,18M1047,909a11,11 0 0 1 11,11");
svg.append("circle").attr("cx", 1049).attr("cy", 917).attr("r", 2).attr("fill", "#131722");
badge(1061, 896, 15, "99+");
icon("M1048,963c3,-3 2,-6 2,-10a8,8 0 0 1 16,0c0,4 -1,7 2,10zM1055,963a3,3 0 0 0 6,0");
badge(1065, 942, 11, "60");
svg.append("circle").attr("cx", 1058).attr("cy", 998).attr("r", 17).attr("fill", "#2a2a2a");
d3.range(3).forEach(function(r) {
    d3.range(3).forEach(function(c) {
        svg.append("rect").attr("x", 1050 + c * 6).attr("y", 990 + r * 6).attr("width", 4).attr("height", 4).attr("fill", "#fff");
    });
});
svg.append("line").attr("x1", 1040).attr("x2", 1076).attr("y1", 1027.5).attr("y2", 1027.5).attr("stroke", "#e0e3eb");
icon("M1071,1056a13,13 0 1 1 0,-0.01zM1053,1051a5,5 0 1 1 7,5c-1,1 -2,2 -2,4M1058,1063v1");

// bottom bar
var rangeX = [79, 109, 140, 172, 204, 239, 272, 300, 328];
rangeNames.forEach(function(n, i) {
    svg.append("text").attr("x", rangeX[i]).attr("y", 1066).attr("text-anchor", "middle").attr("font-size", 13.5).style("fill", "#2a2e39").text(n);
});
svg.append("line").attr("x1", 347.5).attr("x2", 347.5).attr("y1", 1050).attr("y2", 1072).attr("stroke", "#e0e3eb");
icon("M363,1052h16v18h-7M363,1052v9M363,1056h16M367,1049v5M375,1049v5M362,1066h7M367,1063l3,3l-3,3");
svg.append("text").attr("x", 924).attr("y", 1066).attr("text-anchor", "middle").attr("font-size", 13.5).style("fill", "#2a2e39").text("12:52:32 UTC+8");
svg.append("line").attr("x1", 984.5).attr("x2", 984.5).attr("y1", 1050).attr("y2", 1072).attr("stroke", "#e0e3eb");
svg.append("text").attr("x", 1008).attr("y", 1066).attr("text-anchor", "middle").attr("font-size", 13.5).style("fill", "#2a2e39").text("ADJ");

// account tooltip
svg.append("path").attr("d", "M25,38l5,5h-10z").attr("fill", "#2e2e2e");
svg.append("rect").attr("x", 10).attr("y", 43).attr("width", 211).attr("height", 41).attr("rx", 3).attr("fill", "#2e2e2e");
svg.append("text").attr("x", 18).attr("y", 59).attr("font-size", 12.3).style("fill", "#dcdcdc").text("Logged in as MahersahamOfficial");
svg.append("text").attr("x", 18).attr("y", 76).attr("font-size", 12.3).style("fill", "#dcdcdc").text("Active layout: INtraswing 1D");
</script>
</body>
</html>
